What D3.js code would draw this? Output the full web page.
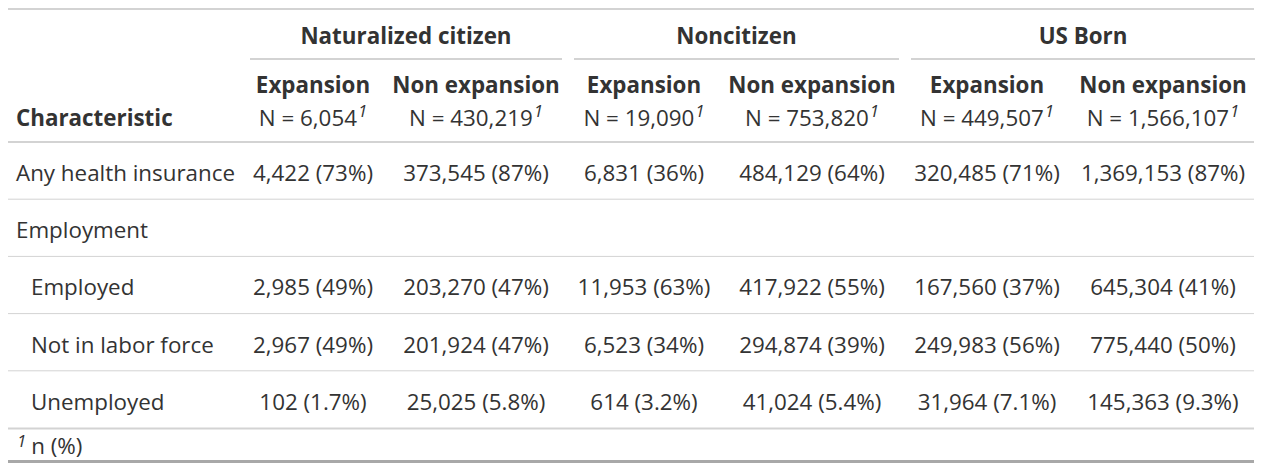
<!DOCTYPE html>
<html><head><meta charset="utf-8">
<script src="https://cdn.jsdelivr.net/npm/d3@7"></script>
<style>body{margin:0;background:#fff}svg{display:block}</style>
</head><body><svg id="c" width="1266" height="470"></svg>
<script>
const spanners = ["Naturalized citizen", "Noncitizen", "US Born"];
const columns = ["nat_exp", "nat_non", "non_exp", "non_non", "us_exp", "us_non"];
const columnLabels = ["Expansion", "Non expansion", "Expansion", "Non expansion", "Expansion", "Non expansion"];
const columnN = [6054, 430219, 19090, 753820, 449507, 1566107];
const rowLabels = ["Any health insurance", "Employment", "Employed", "Not in labor force", "Unemployed"];
const rowIndent = [false, false, true, true, true];
const anyInsuranceN = [4422, 373545, 6831, 484129, 320485, 1369153];
const anyInsurancePct = [73, 87, 36, 64, 71, 87];
const employedN = [2985, 203270, 11953, 417922, 167560, 645304];
const employedPct = [49, 47, 63, 55, 37, 41];
const notInLaborN = [2967, 201924, 6523, 294874, 249983, 775440];
const notInLaborPct = [49, 47, 34, 39, 56, 50];
const unemployedN = [102, 25025, 614, 41024, 31964, 145363];
const unemployedPct = [1.7, 5.8, 3.2, 5.4, 7.1, 9.3];
const footnote = "n (%)";

const rows = [
  {label: rowLabels[0], n: anyInsuranceN, p: anyInsurancePct},
  {label: rowLabels[1], n: null, p: null},
  {label: rowLabels[2], n: employedN, p: employedPct},
  {label: rowLabels[3], n: notInLaborN, p: notInLaborPct},
  {label: rowLabels[4], n: unemployedN, p: unemployedPct}
];

const svg = d3.select("#c");
const FONT = "'Open Sans', 'Noto Sans', sans-serif";
const COLOR = "#333333";
const fmt = d3.format(",");
const fmtPct = v => (v < 10 ? v.toFixed(1) : v.toFixed(0)) + "%";

const probe = svg.append("text").attr("font-family", FONT).attr("font-size", 20).text("Any health insurance");
const w = probe.node().getComputedTextLength();
probe.remove();
const FS = 20 * 219 / w;

const left = 8, right = 1254;
const x = d3.scaleOrdinal().domain(columns).range([313, 476, 644, 812, 987, 1163]);
const xSpan = d3.scaleOrdinal().domain(spanners).range([[250, 562], [574, 899], [911, 1255]]);
const y = d3.scaleBand().domain(rowLabels).range([142, 428]);

function hline(y0, x0, x1, color, sw) {
  svg.append("line").attr("x1", x0).attr("x2", x1).attr("y1", y0).attr("y2", y0)
    .attr("stroke", color).attr("stroke-width", sw);
}

hline(9, left, right, "#d3d3d3", 2);
hline(142, left, right, "#d3d3d3", 2);
hline(428.5, left, right, "#d3d3d3", 2);
hline(461.5, left, right, "#a8a8a8", 3);

spanners.forEach(s => {
  const [a, b] = xSpan(s);
  hline(59, a, b, "#d3d3d3", 2);
  svg.append("text").attr("x", (a + b) / 2).attr("y", 36).attr("dy", "0.35em")
    .attr("text-anchor", "middle").attr("font-family", FONT).attr("font-size", FS)
    .attr("font-weight", 700).attr("fill", COLOR).text(s);
});

columns.forEach((c, i) => {
  svg.append("text").attr("x", x(c)).attr("y", 85).attr("dy", "0.35em")
    .attr("text-anchor", "middle").attr("font-family", FONT).attr("font-size", FS)
    .attr("font-weight", 700).attr("fill", COLOR).text(columnLabels[i]);
  const t = svg.append("text").attr("x", x(c)).attr("y", 118).attr("dy", "0.35em")
    .attr("text-anchor", "middle").attr("font-family", FONT).attr("font-size", FS)
    .attr("fill", COLOR);
  t.append("tspan").text("N = " + fmt(columnN[i]));
  t.append("tspan").attr("font-style", "italic").attr("font-size", FS * 0.75)
    .attr("dy", "-0.55em").attr("dx", 1).text("1");
});

svg.append("text").attr("x", 16).attr("y", 118).attr("dy", "0.35em")
  .attr("font-family", FONT).attr("font-size", FS).attr("font-weight", 700)
  .attr("fill", COLOR).text("Characteristic");

rowLabels.slice(1).forEach(r => hline(y(r), left, right, "#d3d3d3", 1));

rows.forEach((r, ri) => {
  const cy = y(r.label) + y.bandwidth() / 2 + 2.5;
  svg.append("text").attr("x", rowIndent[ri] ? 31 : 16).attr("y", cy).attr("dy", "0.35em")
    .attr("font-family", FONT).attr("font-size", FS).attr("fill", COLOR).text(r.label);
  if (r.n) {
    columns.forEach((c, i) => {
      svg.append("text").attr("x", x(c)).attr("y", cy).attr("dy", "0.35em")
        .attr("text-anchor", "middle").attr("font-family", FONT).attr("font-size", FS)
        .attr("fill", COLOR).text(fmt(r.n[i]) + " (" + fmtPct(r.p[i]) + ")");
    });
  }
});

const ft = svg.append("text").attr("x", 17).attr("y", 452).attr("dy", "0.35em")
  .attr("font-family", FONT).attr("font-size", FS).attr("fill", COLOR);
ft.append("tspan").attr("font-style", "italic").attr("font-size", FS * 0.75).attr("dy", "-0.3em").text("1");
ft.append("tspan").attr("dy", "0.3em").attr("dx", 5).text(footnote);
</script></body></html>
